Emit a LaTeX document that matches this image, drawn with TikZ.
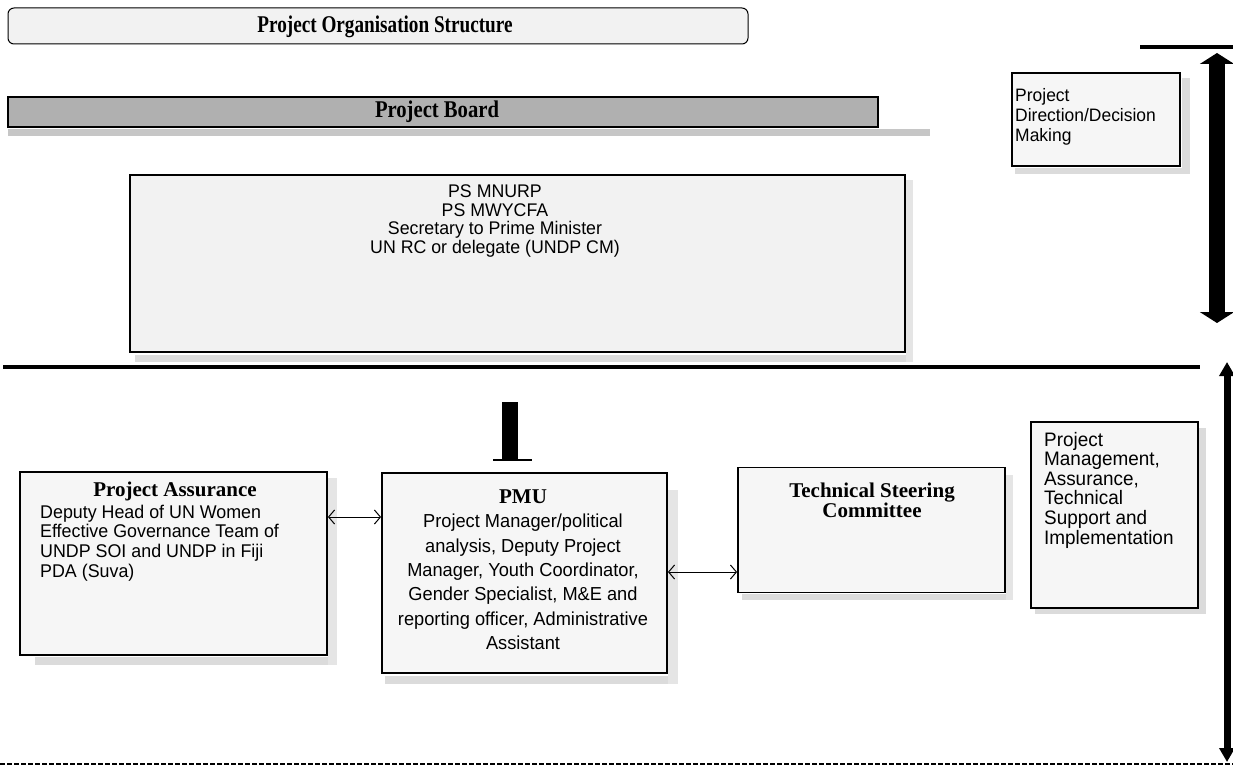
\documentclass[tikz,border=0pt]{standalone}
\usepackage{fontspec}
\setmainfont{Liberation Serif}
\newfontfamily\tnr{Liberation Serif}
\newfontfamily\tnrc[FakeStretch=0.8]{Liberation Serif}
\newfontfamily\tnrb[FakeStretch=0.86]{Liberation Serif}
\newfontfamily\arin[FakeStretch=0.97]{Liberation Sans}
\usetikzlibrary{arrows.meta}
\begin{document}
\begin{tikzpicture}[x=1pt,y=-1pt,
  box/.style={draw=black,line width=1.8pt,fill=gray!7,inner sep=0pt},
  shade/.style={fill=gray!28,draw=none},
  btitle/.style={font=\tnr\bfseries\fontsize{21}{18}\selectfont,align=center,inner sep=0pt},
  biarrow/.style={line width=1pt,{Straight Barb[length=6pt,width=14pt]}-{Straight Barb[length=6pt,width=14pt]}},
  bigarrow/.style={line width=16pt,{Triangle[width=34pt,length=11pt]}-{Triangle[width=34pt,length=11pt]}},
  midarrow/.style={line width=7pt,{Triangle[width=15pt,length=14pt]}-{Triangle[width=15pt,length=14pt]}}
]
\useasboundingbox (0,0) rectangle (1233,770);
\fill[white] (0,0) rectangle (1233,770);

% title
\node[draw=black,line width=1pt,rounded corners=6pt,fill=gray!10,minimum width=740pt,minimum height=36pt,inner sep=0pt] (title) at (378,26) {};
\node[font=\tnrc\bfseries\fontsize{24}{26}\selectfont,inner sep=0pt] (titletext) at (385,27) {Project Organisation Structure};

% project board bar
\fill[shade,fill=gray!45] (8,129) rectangle (930,136);
\node[draw=black,line width=1.8pt,fill=gray!62,minimum width=870pt,minimum height=30pt,inner sep=0pt] (pb) at (443,112) {};
\node[font=\tnrb\bfseries\fontsize{24}{26}\selectfont,inner sep=0pt] (pbtext) at (437,112) {Project Board};

% board members
\fill[shade] (135,355) rectangle (906,362);
\fill[shade,fill=gray!20] (906,180) rectangle (913,362);
\node[box,fill=gray!10,minimum width=775pt,minimum height=177pt] (members) at (517.5,263.5) {};
\node[font=\arin\fontsize{18.3}{18.9}\selectfont,align=center,inner sep=0pt] (memberstext) at (495,221)
  {PS MNURP\\PS MWYCFA\\Secretary to Prime Minister\\UN RC or delegate (UNDP CM)};

% direction box
\fill[shade] (1182,78) rectangle (1190,174);
\fill[shade] (1015,168) rectangle (1190,174);
\node[box,minimum width=168pt,minimum height=93pt] (dir) at (1096,119.5) {};
\node[font=\arin\fontsize{18}{19.8}\selectfont,align=left,anchor=west,inner sep=0pt] (dirtext) at (1015,117)
  {Project\\Direction/Decision\\Making};

% top right line and arrow
\coordinate (tl1) at (1140,47);
\coordinate (tl2) at (1233,47);
\draw[line width=3.5pt] (tl1) -- (tl2);
\coordinate (a1t) at (1217,53);
\coordinate (a1b) at (1217,323);
\draw[bigarrow] (a1t) -- (a1b);

% divider
\coordinate (d1) at (3,367);
\coordinate (d2) at (1200,367);
\draw[line width=4pt] (d1) -- (d2);
\coordinate (a2t) at (1227,362);
\coordinate (a2b) at (1227,762);
\draw[midarrow] (a2t) -- (a2b);

% dashed bottom line
\coordinate (b1) at (0,764);
\coordinate (b2) at (1233,764);
\draw[line width=1.2pt,dash pattern=on 5pt off 2pt] (b1) -- (b2);

% vertical stub
\fill[black] (502,402) rectangle (518,460);
\draw[line width=1.5pt] (493,460) -- (532,460);

% project assurance
\fill[shade] (35,657) rectangle (337,665);
\fill[shade,fill=gray!20] (328,478) rectangle (337,665);
\node[box,minimum width=307pt,minimum height=183pt] (asr) at (173.5,563.5) {};
\node[btitle] (asrtitle) at (175,491) {Project Assurance};
\node[font=\arin\fontsize{18.4}{19.6}\selectfont,align=left,anchor=west,inner sep=0pt] (asrtext) at (40,543)
  {Deputy Head of UN Women\\Effective Governance Team of\\UNDP SOI and UNDP in Fiji\\PDA (Suva)};

% PMU
\fill[shade] (385,676) rectangle (678,684);
\fill[shade,fill=gray!20] (668,490) rectangle (678,684);
\node[box,minimum width=285pt,minimum height=200pt] (pmu) at (524.5,573) {};
\node[btitle] (pmutitle) at (523,497) {PMU};
\node[font=\arin\fontsize{18.8}{24.3}\selectfont,align=center,inner sep=0pt] (pmutext) at (523,582)
  {Project Manager/political\\analysis, Deputy Project\\Manager, Youth Coordinator,\\Gender Specialist, M\&E and\\reporting officer, Administrative\\Assistant};

% technical steering committee
\fill[shade] (742,594) rectangle (1013,600);
\fill[shade,fill=gray!20] (1006,475) rectangle (1013,600);
\node[box,minimum width=267pt,minimum height=125pt] (tsc) at (871.5,530) {};
\node[btitle] (tsctext) at (872,500) {Technical Steering\\Committee};

% right management box
\fill[shade] (1199,428) rectangle (1206,614);
\fill[shade] (1035,608) rectangle (1206,614);
\node[box,minimum width=167pt,minimum height=186pt] (mgmt) at (1114.5,515) {};
\node[font=\arin\fontsize{19.5}{19.6}\selectfont,align=left,anchor=west,inner sep=0pt] (mgmttext) at (1044,490)
  {Project\\Management,\\Assurance,\\Technical\\Support and\\Implementation};

% connectors
\draw[biarrow] (asr.east |- 0,517) -- (pmu.west |- 0,517);
\draw[biarrow] (pmu.east |- 0,572) -- (tsc.west |- 0,572);
\end{tikzpicture}
\end{document}
